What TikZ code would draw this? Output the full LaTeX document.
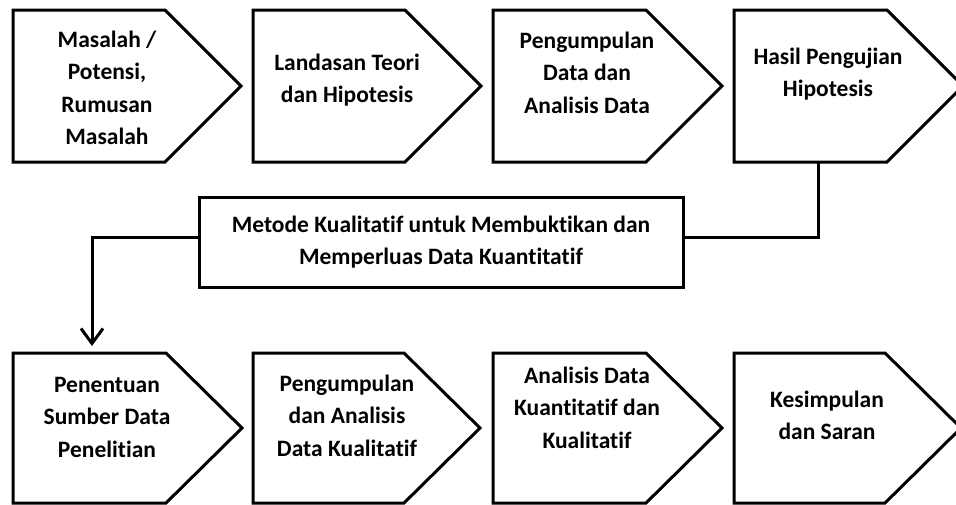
\documentclass[tikz,border=0pt]{standalone}
\usepackage{fontspec}
\setmainfont[RawFeature={-liga;-clig;-calt;-dlig;-rlig}]{Carlito}
\usetikzlibrary{arrows.meta}
\begin{document}
\begin{tikzpicture}[x=1pt,y=-1pt,
  shp/.style={draw=black, line width=3pt, line join=miter, fill=white},
  txt/.style={font=\fontsize{23.5}{32.5}\selectfont\bfseries, align=center, anchor=north, inner sep=0pt},
  midbox/.style={draw=black, line width=3pt, fill=white, font=\fontsize{23.5}{32.5}\selectfont\bfseries, align=center, minimum width=484pt, minimum height=90pt, inner sep=0pt},
  conn/.style={draw=black, line width=3pt},
  arr/.style={-{Straight Barb[length=15pt,width=22pt,line width=3pt]}}
]
\fill[white] (0,0) rectangle (956,504);
\useasboundingbox (0,0) rectangle (956,504);
\newcommand\pentbox[4]{%
  \draw[shp] (#1,#2) -- ++(#3,0) -- ++(76,#4/2) -- ++(-76,#4/2) -- ++(-#3,0) -- cycle;}
% top row
\pentbox{13}{10}{152}{152}
\pentbox{253}{10}{152}{152}
\pentbox{493}{10}{153}{152}
\pentbox{734}{10}{153}{152}
% bottom row
\pentbox{13}{353}{153}{150}
\pentbox{253}{353}{151}{150}
\pentbox{493}{353}{153}{150}
\pentbox{734}{353}{151}{150}
% texts
\node[txt] (t1) at (107,24.25) {\strut Masalah /\\Potensi,\\Rumusan\\Masalah};
\node[txt] (t2) at (347,47.25) {\strut Landasan Teori\\dan Hipotesis};
\node[txt] (t3) at (587,25.25) {\strut Pengumpulan\\Data dan\\Analisis Data};
\node[txt] (t4) at (828,41.25) {\strut Hasil Pengujian\\Hipotesis};
\node[txt] (t5) at (107,369.25) {\strut Penentuan\\Sumber Data\\Penelitian};
\node[txt] (t6) at (347,368.25) {\strut Pengumpulan\\dan Analisis\\Data Kualitatif};
\node[txt] (t7) at (587,360.25) {\strut Analisis Data\\Kuantitatif dan\\Kualitatif};
\node[txt] (t8) at (827,384.25) {\strut Kesimpulan\\dan Saran};
% middle box
\node[midbox] (mid) at (441,242) {\strut Metode Kualitatif untuk Membuktikan dan\\Memperluas Data Kuantitatif\strut};
% connectors
\coordinate (s4b) at (818,162);
\coordinate (b1t) at (92,353);
\draw[conn] (s4b) |- ([yshift=5pt]mid.east);
\draw[conn,arr,shorten >=7pt] ([yshift=5pt]mid.west) -| (b1t);
\end{tikzpicture}
\end{document}
